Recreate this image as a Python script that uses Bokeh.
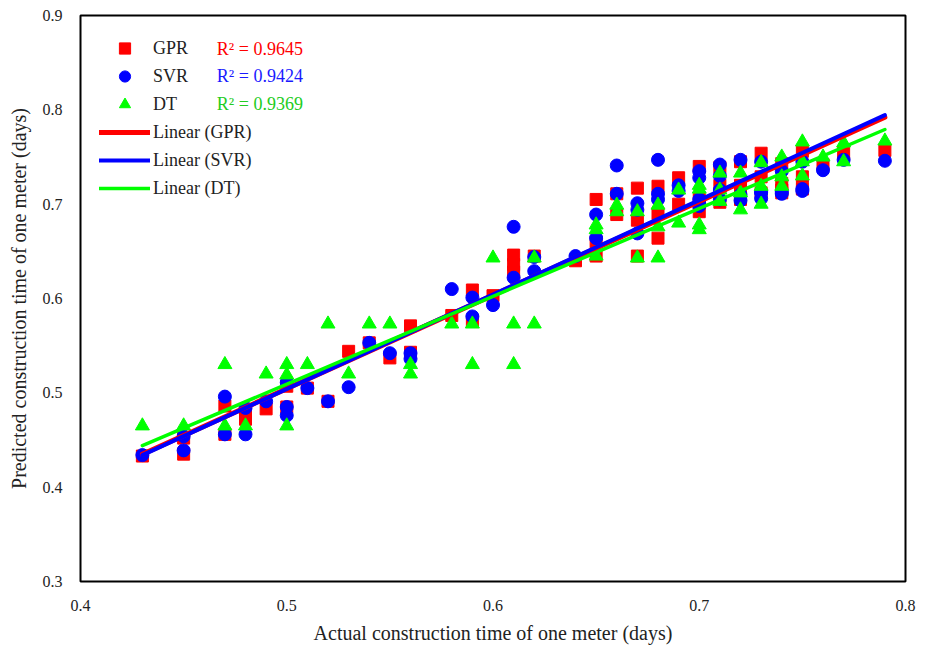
import numpy as np
from bokeh.plotting import figure
from bokeh.models import Legend, LegendItem, Label, Range1d, FixedTicker
from bokeh.embed import file_html
from bokeh.resources import INLINE

# Actual vs. predicted construction time of one meter (days)
gpr_x = [0.43, 0.45, 0.45, 0.47, 0.47, 0.48, 0.48, 0.49, 0.50, 0.50, 0.51, 0.52,
         0.53, 0.54, 0.55, 0.56, 0.56, 0.58, 0.59, 0.59, 0.60, 0.61, 0.61, 0.61,
         0.62, 0.64, 0.65, 0.65, 0.65, 0.66, 0.66, 0.67, 0.67, 0.67, 0.68, 0.68,
         0.68, 0.69, 0.69, 0.70, 0.70, 0.70, 0.71, 0.71, 0.71, 0.72, 0.72, 0.72,
         0.72, 0.73, 0.73, 0.73, 0.74, 0.74, 0.74, 0.74, 0.75, 0.75, 0.75, 0.76,
         0.77, 0.79]
gpr_y = [0.433, 0.435, 0.452, 0.456, 0.486, 0.472, 0.481, 0.483, 0.485, 0.507, 0.505, 0.491,
         0.544, 0.553, 0.537, 0.571, 0.543, 0.582, 0.609, 0.576, 0.603, 0.646, 0.636, 0.628,
         0.645, 0.640, 0.705, 0.660, 0.645, 0.711, 0.689, 0.717, 0.683, 0.645, 0.719, 0.690,
         0.664, 0.728, 0.700, 0.740, 0.692, 0.705, 0.739, 0.720, 0.702, 0.745, 0.720, 0.705,
         0.712, 0.754, 0.729, 0.712, 0.743, 0.722, 0.712, 0.715, 0.756, 0.729, 0.716, 0.742,
         0.754, 0.757]

svr_x = [0.43, 0.45, 0.45, 0.47, 0.47, 0.48, 0.48, 0.49, 0.50, 0.50, 0.50, 0.51,
         0.52, 0.53, 0.54, 0.55, 0.56, 0.56, 0.58, 0.59, 0.59, 0.60, 0.61, 0.61,
         0.62, 0.62, 0.64, 0.65, 0.65, 0.66, 0.66, 0.67, 0.67, 0.67, 0.68, 0.68,
         0.68, 0.69, 0.69, 0.70, 0.70, 0.70, 0.70, 0.70, 0.71, 0.71, 0.71, 0.71,
         0.72, 0.72, 0.72, 0.73, 0.73, 0.73, 0.73, 0.74, 0.74, 0.74, 0.75, 0.75,
         0.75, 0.76, 0.77, 0.79]
svr_y = [0.434, 0.439, 0.454, 0.496, 0.456, 0.456, 0.484, 0.491, 0.511, 0.485, 0.476, 0.505,
         0.491, 0.506, 0.553, 0.542, 0.542, 0.536, 0.610, 0.601, 0.581, 0.593, 0.676, 0.622,
         0.644, 0.629, 0.645, 0.689, 0.664, 0.741, 0.711, 0.701, 0.694, 0.669, 0.747, 0.711,
         0.705, 0.720, 0.714, 0.735, 0.728, 0.705, 0.698, 0.700, 0.742, 0.730, 0.715, 0.705,
         0.747, 0.710, 0.704, 0.745, 0.712, 0.706, 0.713, 0.735, 0.711, 0.713, 0.745, 0.714,
         0.716, 0.736, 0.747, 0.746]

dt_x = [0.43, 0.45, 0.47, 0.47, 0.48, 0.49, 0.50, 0.50, 0.50, 0.51, 0.52, 0.53,
        0.54, 0.55, 0.56, 0.56, 0.58, 0.59, 0.59, 0.60, 0.61, 0.61, 0.62, 0.62,
        0.65, 0.65, 0.65, 0.66, 0.66, 0.67, 0.67, 0.68, 0.68, 0.68, 0.69, 0.69,
        0.70, 0.70, 0.70, 0.70, 0.71, 0.71, 0.71, 0.72, 0.72, 0.72, 0.73, 0.73,
        0.73, 0.74, 0.74, 0.74, 0.75, 0.75, 0.75, 0.76, 0.77, 0.77, 0.79]
dt_y = [0.465, 0.465, 0.530, 0.465, 0.465, 0.520, 0.530, 0.519, 0.465, 0.530, 0.573, 0.520,
        0.573, 0.573, 0.530, 0.520, 0.573, 0.573, 0.530, 0.643, 0.573, 0.530, 0.643, 0.573,
        0.678, 0.673, 0.645, 0.699, 0.692, 0.692, 0.643, 0.699, 0.676, 0.643, 0.715, 0.680,
        0.720, 0.716, 0.678, 0.673, 0.733, 0.715, 0.703, 0.733, 0.712, 0.694, 0.744, 0.719,
        0.700, 0.750, 0.729, 0.719, 0.766, 0.745, 0.730, 0.750, 0.765, 0.745, 0.767]

series_names = ["GPR", "SVR", "DT"]
r2_labels = ["R\u00b2 = 0.9645", "R\u00b2 = 0.9424", "R\u00b2 = 0.9369"]
x_ticks = [0.4, 0.5, 0.6, 0.7, 0.8]
y_ticks = [0.3, 0.4, 0.5, 0.6, 0.7, 0.8, 0.9]

FONT = "Liberation Serif"
colors = ["#FF0000", "#0000FF", "#00FF00"]
r2_colors = ["#FF0000", "#1A1AFF", "#22CC22"]

p = figure(width=930, height=646, output_backend="svg", toolbar_location=None,
           x_range=Range1d(0.4, 0.8), y_range=Range1d(0.3, 0.9),
           min_border_left=80, min_border_right=25, min_border_top=15,
           min_border_bottom=63)
p.background_fill_color = "white"
p.border_fill_color = "white"
p.outline_line_color = "black"
p.outline_line_width = 2
p.xgrid.visible = False
p.ygrid.visible = False

p.xaxis.ticker = FixedTicker(ticks=x_ticks)
p.yaxis.ticker = FixedTicker(ticks=y_ticks)
for ax in (p.xaxis[0], p.yaxis[0]):
    ax.axis_line_color = "black"
    ax.axis_line_width = 1
    ax.major_tick_line_color = None
    ax.minor_tick_line_color = None
    ax.major_label_text_font = FONT
    ax.major_label_text_font_size = "16px"
    ax.major_label_text_color = "#222222"
    ax.axis_label_text_font = FONT
    ax.axis_label_text_font_size = "20px"
    ax.axis_label_text_font_style = "normal"
    ax.axis_label_text_color = "#222222"
p.xaxis.major_label_standoff = 12
p.yaxis.major_label_standoff = 12
p.xaxis.axis_label = "Actual construction time of one meter (days)"
p.yaxis.axis_label = "Predicted construction time of one meter (days)"
p.xaxis.axis_label_standoff = 8
p.yaxis.axis_label_standoff = 10

# scatter markers
r_gpr = p.scatter(gpr_x, gpr_y, marker="square", size=12, color=colors[0])
r_svr = p.scatter(svr_x, svr_y, marker="circle", size=13, color=colors[1])
r_dt = p.scatter(dt_x, dt_y, marker="triangle", size=14, color=colors[2])

# least-squares trend lines
line_renderers = []
for xs, ys, c, w in ((gpr_x, gpr_y, colors[0], 5), (svr_x, svr_y, colors[1], 4),
                     (dt_x, dt_y, colors[2], 3.5)):
    slope, intercept = np.polyfit(xs, ys, 1)
    lx = np.array([min(xs), max(xs)])
    line_renderers.append(p.line(lx, slope * lx + intercept, color=c,
                                 line_width=w, line_cap="round"))

items = [LegendItem(label=n, renderers=[r]) for n, r in zip(series_names, (r_gpr, r_svr, r_dt))]
items += [LegendItem(label="Linear (%s)" % n, renderers=[r])
          for n, r in zip(series_names, line_renderers)]
legend = Legend(items=items, location="top_left", margin=19, padding=10,
                glyph_width=51, glyph_height=28, label_height=28, spacing=0,
                label_standoff=3, label_text_font=FONT, label_text_font_size="18px",
                label_text_color="#222222", border_line_color=None,
                background_fill_alpha=0)
p.add_layout(legend)

# R² annotations next to the marker entries
r2_y = [0.865, 0.8355, 0.806]
for txt, c, yy in zip(r2_labels, r2_colors, r2_y):
    p.add_layout(Label(x=0.4661, y=yy, text=txt, text_color=c, text_font=FONT,
                       text_font_size="18px", text_baseline="middle"))

open("out.html", "w").write(file_html(p, INLINE))
